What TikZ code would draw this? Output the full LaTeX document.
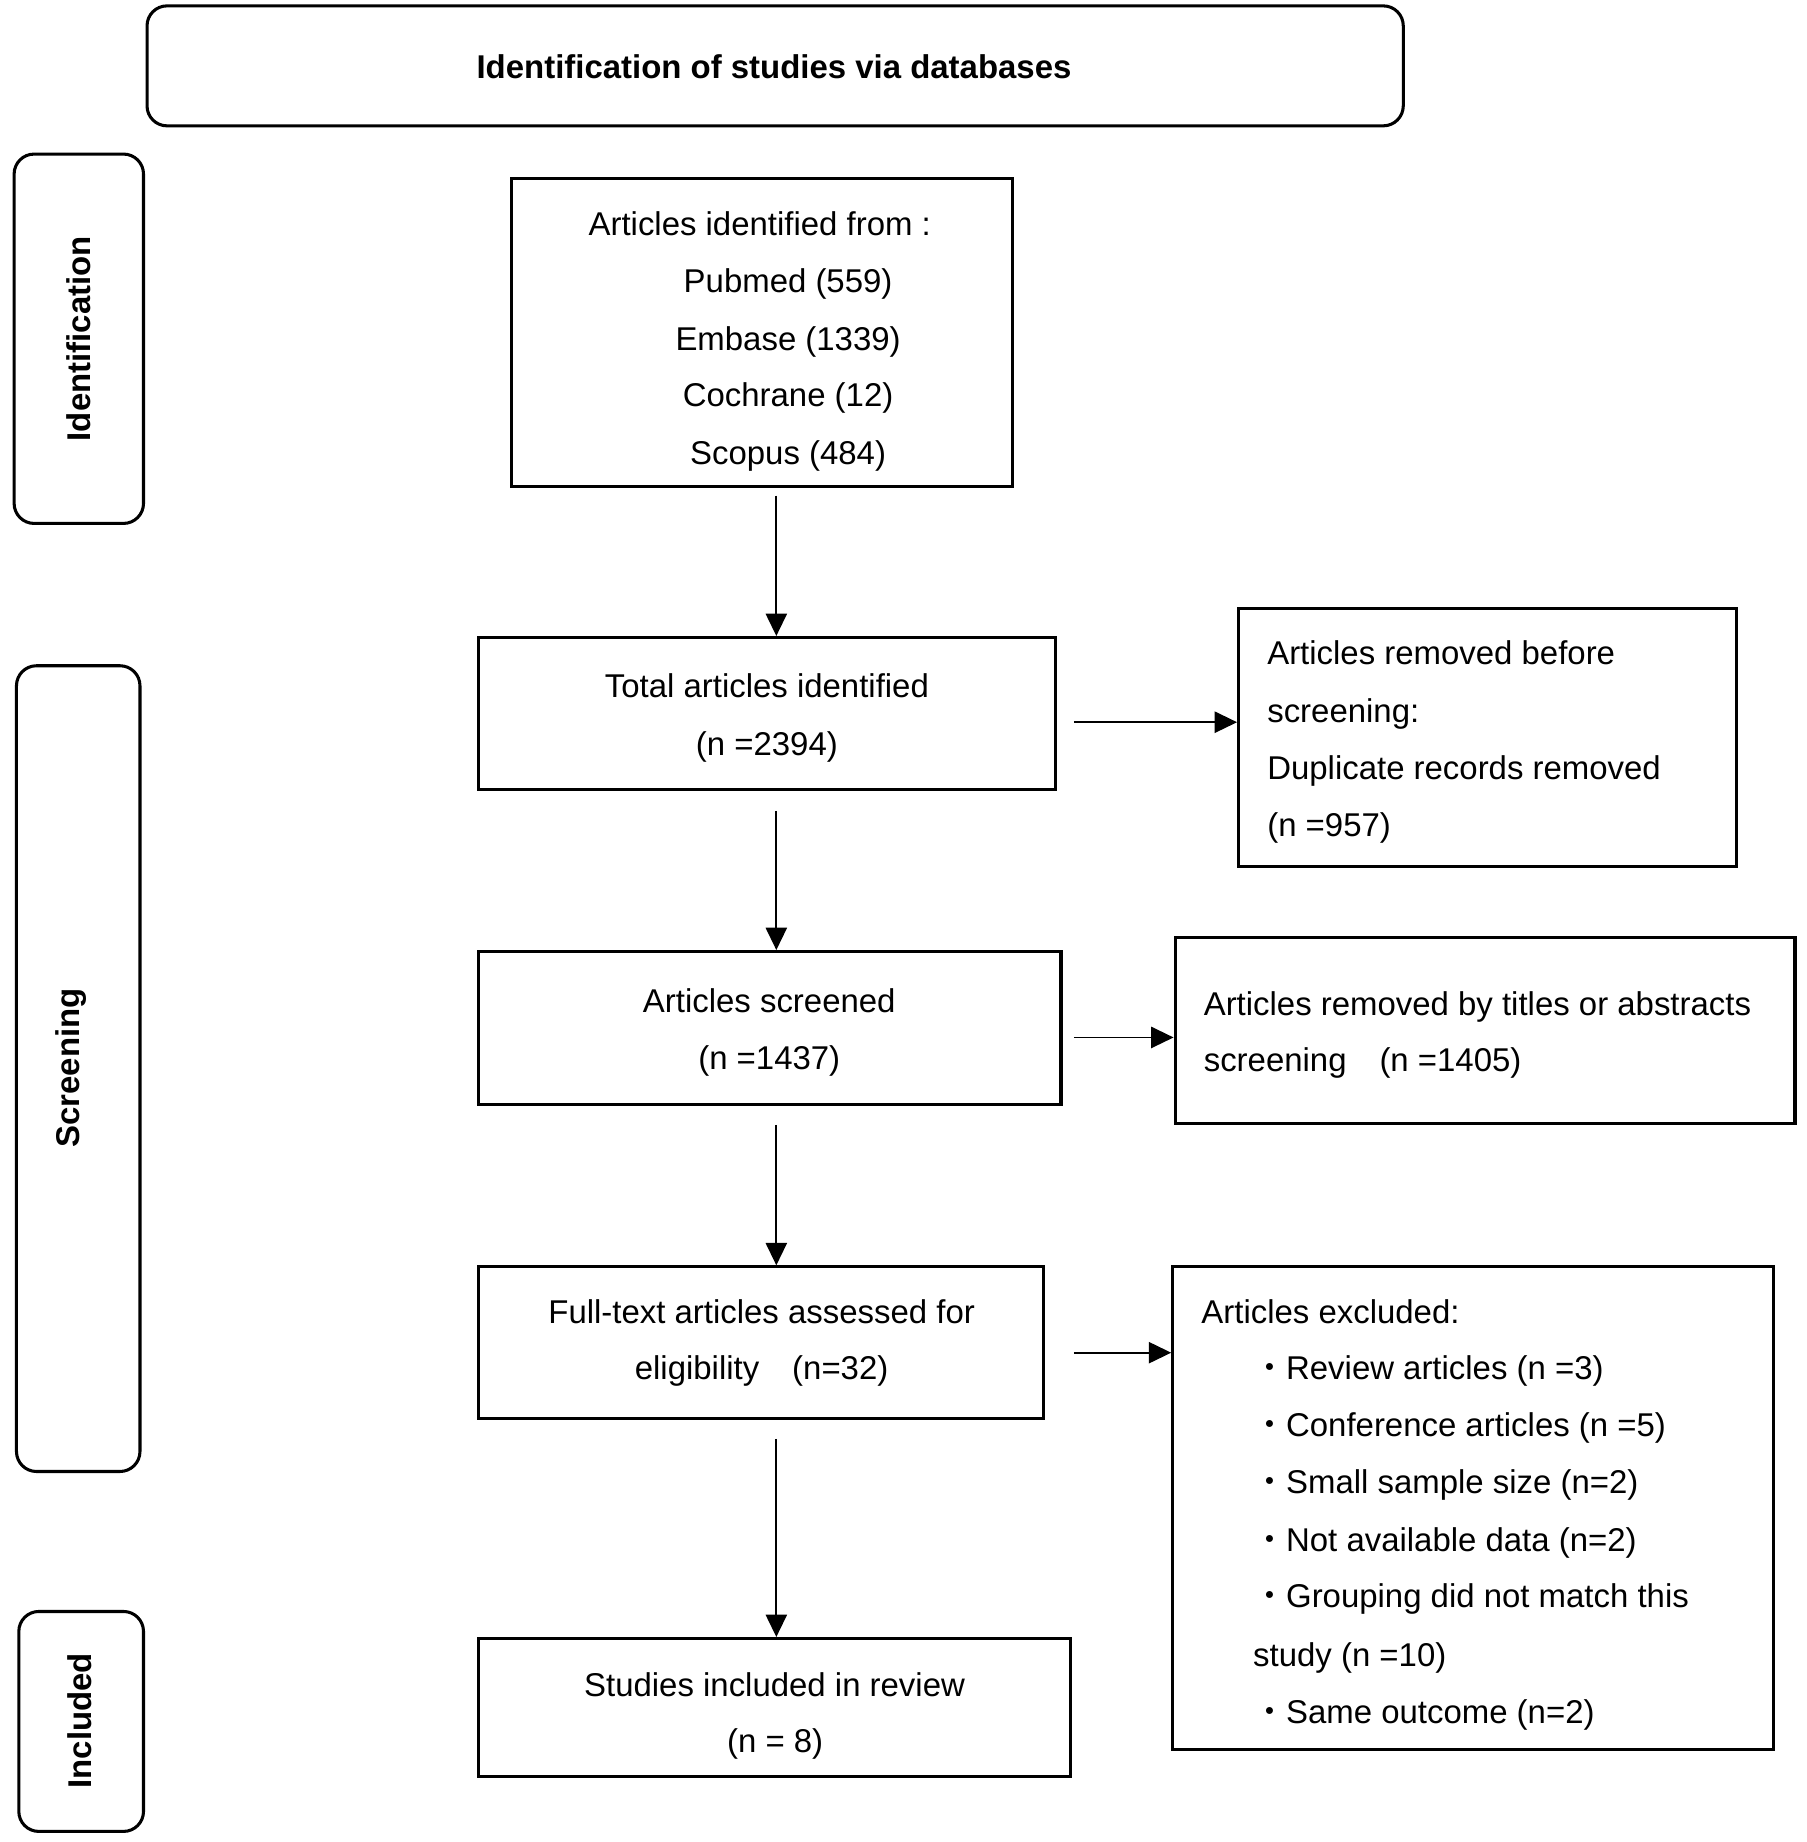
\documentclass[tikz,border=0pt]{standalone}
\usepackage{fontspec}
\setmainfont{Liberation Sans}
\newfontfamily\cjkdot{Noto Sans CJK SC}
\usetikzlibrary{fit,arrows.meta}
\newcommand{\pbul}[1]{{\cjkdot ・}#1}
\begin{document}
\begin{tikzpicture}[x=0.5pt,y=-0.5pt,
  every node/.style={font=\fontsize{14}{17}\selectfont},
  box/.style={draw, line width=1.3pt, inner sep=0pt},
  rbox/.style={draw, line width=1.3pt, inner sep=0pt, rounded corners=8.5pt},
  txt/.style={inner sep=0pt, anchor=base},
  ltxt/.style={inner sep=0pt, anchor=base west},
  side/.style={inner sep=0pt, rotate=90, font=\fontsize{14}{17}\selectfont\bfseries},
  arr/.style={line width=0.8pt, -{Triangle[length=9.5pt,width=9pt]}}]
\useasboundingbox (0,0) rectangle (1536,1566);
% title and side boxes
\node[rbox, fit={(125,5) (1193,107)}] (title) {};
\node[inner sep=0pt, font=\fontsize{14}{17}\selectfont\bfseries] (titletxt) at (658,57) {Identification of studies via databases};
\node[rbox, fit={(12,131) (122,445)}] (sid) {};
\node[side] (sidtxt) at (67,288) {Identification};
\node[rbox, fit={(14,566) (119,1251)}] (sscr) {};
\node[side] (sscrtxt) at (60,908) {Screening};
\node[rbox, fit={(16,1370) (122,1557)}] (sinc) {};
\node[side] (sinctxt) at (68,1463) {Included};
% box 1
\node[box, fit={(435,152) (861,414)}] (b1) {};
\node[ltxt] (b1a) at (500,200) {Articles identified from :};
\node[txt] (b1b) at (670,249) {Pubmed (559)};
\node[txt] (b1c) at (670,298) {Embase (1339)};
\node[txt] (b1d) at (670,346) {Cochrane (12)};
\node[txt] (b1e) at (670,395) {Scopus (484)};
% box 2
\node[box, fit={(407,542) (897,671)}] (b2) {};
\node[txt] (b2a) at (652,593) {Total articles identified};
\node[txt] (b2b) at (652,642) {(n =2394)};
% box 3
\node[box, fit={(1053,517) (1476,737)}] (b3) {};
\node[ltxt] (b3a) at (1077,565) {Articles removed before};
\node[ltxt] (b3b) at (1077,614) {screening:};
\node[ltxt] (b3c) at (1077,663) {Duplicate records removed};
\node[ltxt] (b3d) at (1077,711) {(n =957)};
% box 4
\node[box, fit={(407,809) (902,939)}] (b4) {};
\node[txt] (b4a) at (654,861) {Articles screened};
\node[txt] (b4b) at (654,909) {(n =1437)};
% box 5
\node[box, fit={(999,797) (1526,955)}] (b5) {};
\node[ltxt] (b5a) at (1023,863) {Articles removed by titles or abstracts};
\node[ltxt] (b5b) at (1023,911) {screening\hspace{1em}(n =1405)};
% box 6
\node[box, fit={(407,1077) (887,1206)}] (b6) {};
\node[txt] (b6a) at (647.5,1125) {Full-text articles assessed for};
\node[txt] (b6b) at (647.5,1173) {eligibility\hspace{1em}(n=32)};
% box 7
\node[box, fit={(997,1077) (1508,1487)}] (b7) {};
\node[ltxt] (b7a) at (1021,1125) {Articles excluded:};
\node[ltxt] (b7b) at (1065,1173) {\pbul{Review articles (n =3)}};
\node[ltxt] (b7c) at (1065,1221) {\pbul{Conference articles (n =5)}};
\node[ltxt] (b7d) at (1065,1270) {\pbul{Small sample size (n=2)}};
\node[ltxt] (b7e) at (1065,1319) {\pbul{Not available data (n=2)}};
\node[ltxt] (b7f) at (1065,1367) {\pbul{Grouping did not match this}};
\node[ltxt] (b7g) at (1065,1417) {study (n =10)};
\node[ltxt] (b7h) at (1065,1465) {\pbul{Same outcome (n=2)}};
% box 8
\node[box, fit={(407,1393) (910,1510)}] (b8) {};
\node[txt] (b8a) at (658.5,1442) {Studies included in review};
\node[txt] (b8b) at (659,1490) {(n = 8)};
% arrows
\coordinate (ax) at (660,0);
\coordinate (r2) at (913,614);
\coordinate (r4) at (913,882);
\coordinate (r6) at (913,1150);
\draw[arr] ([yshift=-3pt]b1.south -| ax) -- (b2.north -| ax);
\draw[arr] ([yshift=-8.5pt]b2.south -| ax) -- (b4.north -| ax);
\draw[arr] ([yshift=-8pt]b4.south -| ax) -- (b6.north -| ax);
\draw[arr] ([yshift=-8pt]b6.south -| ax) -- (b8.north -| ax);
\draw[arr] (r2) -- (r2 -| b3.west);
\draw[arr] (r4) -- (r4 -| b5.west);
\draw[arr] (r6) -- (r6 -| b7.west);
\end{tikzpicture}
\end{document}
